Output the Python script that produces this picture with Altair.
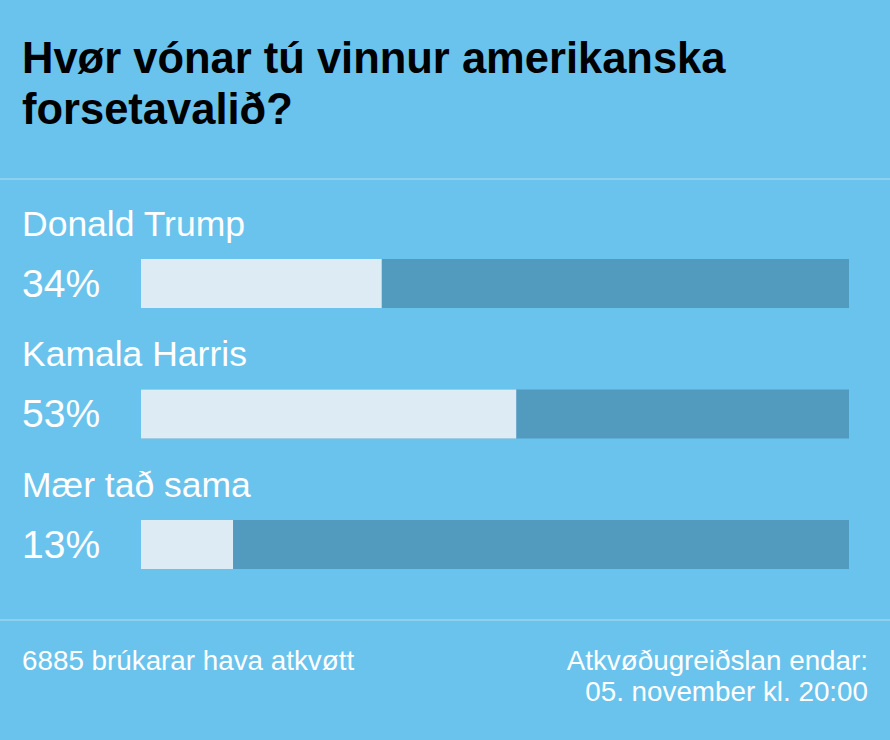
import altair as alt
import pandas as pd

# ---- data ----
title_lines = ["Hvør vónar tú vinnur amerikanska", "forsetavalið?"]
candidates = ["Donald Trump", "Kamala Harris", "Mær tað sama"]
percent = [34, 53, 13]
footer_left = "6885 brúkarar hava atkvøtt"
footer_right = ["Atkvøðugreiðslan endar:", "05. november kl. 20:00"]

BG = "#6AC3EC"
TRACK = "#529ABE"
FILL = "#DDEBF4"
SEP = "#8ED0F0"
FONT = "Liberation Sans"

df = pd.DataFrame({
    "name": candidates,
    "pct": percent,
    "full": [100] * len(candidates),
    "zero": [0] * len(candidates),
    "label": [f"{p}%" for p in percent],
})

x = alt.X("zero:Q", scale=alt.Scale(domain=[0, 100], range=[141, 849]), axis=None)
y = alt.Y("name:N", sort=candidates,
          scale=alt.Scale(type="point", domain=candidates, range=[283.5, 544.5], padding=0),
          axis=None)

base = alt.Chart(df)

track = base.mark_bar(size=49, color=TRACK, cornerRadius=0).encode(
    x=x, x2="full:Q", y=y)
fill = base.mark_bar(size=49, color=FILL, cornerRadius=0).encode(
    x=x, x2="pct:Q", y=y)

names = base.mark_text(align="left", baseline="middle", dy=-59, font=FONT,
                       fontSize=35.5, color="white").encode(
    x=alt.value(22), y=y, text="name:N")
labels = base.mark_text(align="left", baseline="middle", dy=1, font=FONT,
                        fontSize=39, color="white").encode(
    x=alt.value(22), y=y, text="label:N")

title_df = pd.DataFrame({"t": title_lines, "i": [0, 1]})
title = alt.Chart(title_df).mark_text(align="left", baseline="alphabetic", font=FONT,
                                      fontSize=43.5, fontWeight="bold", color="black").encode(
    x=alt.value(22),
    y=alt.Y("i:O", scale=alt.Scale(type="point", domain=[0, 1], range=[73, 124], padding=0), axis=None),
    text="t:N")

sep1 = alt.Chart(pd.DataFrame({"a": [0]})).mark_rule(color=SEP, strokeWidth=2).encode(
    x=alt.value(0), x2=alt.value(890), y=alt.value(179))
sep2 = alt.Chart(pd.DataFrame({"a": [0]})).mark_rule(color=SEP, strokeWidth=2).encode(
    x=alt.value(0), x2=alt.value(890), y=alt.value(620))

foot_l = alt.Chart(pd.DataFrame({"t": [footer_left]})).mark_text(
    align="left", baseline="middle", font=FONT, fontSize=27.8, color="white").encode(
    x=alt.value(22), y=alt.value(662), text="t:N")

foot_r_df = pd.DataFrame({"t": footer_right, "i": [0, 1]})
foot_r = alt.Chart(foot_r_df).mark_text(
    align="right", baseline="middle", font=FONT, fontSize=27.8, color="white").encode(
    x=alt.value(868),
    y=alt.Y("i:O", scale=alt.Scale(type="point", domain=[0, 1], range=[662, 693], padding=0), axis=None),
    text="t:N")

chart = alt.layer(
    sep1, sep2, track, fill, names, labels, title, foot_l, foot_r
).resolve_scale(y="independent").properties(
    width=890, height=740, background=BG, padding=0,
    autosize=alt.AutoSizeParams(type="none"),
).configure_view(stroke=None, fill=BG)

chart.save("out.html", embed_options={"renderer": "svg", "actions": False})
